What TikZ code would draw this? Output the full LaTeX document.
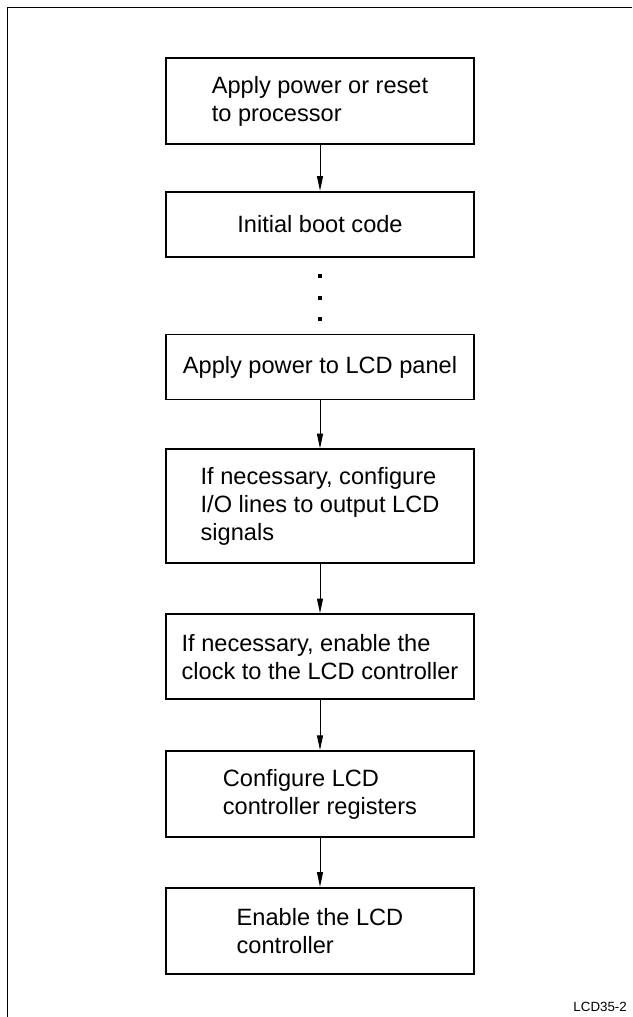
\documentclass[tikz,border=0pt]{standalone}
\usepackage{fontspec}
\setmainfont{Liberation Sans}
\usetikzlibrary{arrows.meta,positioning}

\begin{document}
\begin{tikzpicture}[->,>={Triangle[length=11pt,width=4.5pt]}, line width=0.75pt, node distance=36pt, align=left, font=\fontsize{17.7}{21}\selectfont]

    \tikzstyle{action}=[draw=black, line width=1.35pt, minimum width=231pt, minimum height=64.5pt, inner sep=4pt]

    \useasboundingbox (0,0) rectangle (474pt,-762.75pt);
    \draw[-] (474pt,-5.25pt) -- (5.25pt,-5.25pt) -- (5.25pt,-762.75pt);

    \node[action, anchor=north]             (power)    at (240pt,-42.75pt)     {Apply power or reset\\to processor};
    \node[action, minimum height=48.75pt]   (boot)     [below=34.5pt of power]  {Initial boot code};
    \node[action, minimum height=48.75pt]   (lcdpower) [below=57pt of boot]     {Apply power to LCD panel};
    \node[action, minimum height=85.5pt]    (pins)     [below=of lcdpower]      {If necessary, configure\\I/O lines to output LCD\\signals};
    \node[action, minimum height=63.75pt]   (clock)    [below=36.75pt of pins]  {If necessary, enable the\\clock to the LCD controller};
    \node[action]                           (regs)     [below=37.5pt of clock]  {Configure LCD\\controller registers};
    \node[action]                           (enable)   [below=36.75pt of regs]  {Enable the LCD\\controller};

    % skipped steps
    \foreach \d in {14pt,30pt,45.75pt}
        \fill[-] ([yshift=-\d]boot.south) ++(-1.5pt,-1.5pt) rectangle ++(3pt,3pt);

    \path (power)    edge (boot)
          (lcdpower) edge (pins)
          (pins)     edge (clock)
          (clock)    edge (regs)
          (regs)     edge (enable)
    ;

    \node[font=\fontsize{10}{12}\selectfont, anchor=base east, inner sep=0pt] (figid) at (470.5pt,-758.25pt) {LCD35-2};
\end{tikzpicture}
\end{document}
